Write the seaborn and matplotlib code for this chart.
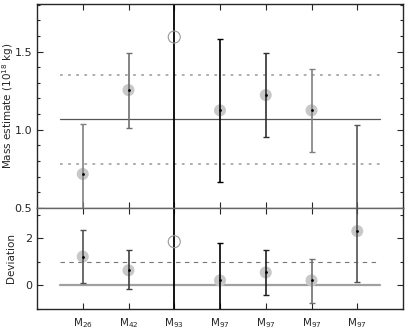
import numpy as np
import pandas as pd
import seaborn as sns
import matplotlib.pyplot as plt
from matplotlib.ticker import MultipleLocator

labels = ['M$_{26}$', 'M$_{42}$', 'M$_{93}$', 'M$_{97}$', 'M$_{97}$', 'M$_{97}$', 'M$_{97}$']
xpos = [1, 2, 3, 4, 5, 6, 7]

# mass estimates (1e18 kg) with error bar ends
mass = [0.716, 1.254, 1.594, 1.124, 1.222, 1.124, 0.42]
mass_hi = [1.036, 1.494, np.nan, 1.579, 1.494, 1.391, 1.030]
mass_lo = [0.30, 1.013, np.nan, 0.667, 0.953, 0.855, 0.00]
mass_mean = 1.069
mass_band = [0.78, 1.35]

# deviation
dev = [1.22, 0.64, 1.85, 0.21, 0.55, 0.21, 2.30]
dev_hi = [2.34, 1.50, np.nan, 1.81, 1.50, 1.12, 4.5]
dev_lo = [0.11, -0.17, np.nan, -1.5, -0.39, -0.73, 0.13]

bar_cols_top = ['#808080', '#707070', None, '#000000', '#303030', '#808080', '#555555']
bar_cols_bot = ['#505050', '#404040', None, '#000000', '#202020', '#707070', '#505050']
open_pt = [False, False, True, False, False, False, False]

sns.set_style('ticks')
plt.rcParams['font.family'] = ['DejaVu Sans']
plt.rcParams['xtick.direction'] = 'in'
plt.rcParams['ytick.direction'] = 'in'

fig = plt.figure(figsize=(4.07, 3.30), dpi=100)
ax1 = fig.add_axes([0.0909, 0.3706, 0.8993, 0.6174])
ax2 = fig.add_axes([0.0909, 0.0636, 0.8993, 0.3070])

df = pd.DataFrame({'x': xpos, 'mass': mass, 'dev': dev, 'open': open_pt})


def draw_panel(ax, ycol, hi, lo, cols, mean, band, band_style, mean_style):
    ax.plot([0.5, 7.5], [mean, mean], **mean_style, zorder=1)
    for b in band:
        ax.plot([0.5, 7.5], [b, b], **band_style, zorder=1)
    ax.axvline(3, color='black', lw=1.3, zorder=2)
    filled = df[~df['open']]
    sns.scatterplot(data=filled, x='x', y=ycol, ax=ax, s=75, color='#c8c8c8',
                    edgecolor='none', zorder=3, legend=False)
    empty = df[df['open']]
    ax.scatter(empty['x'], empty[ycol], s=75, facecolor='none',
               edgecolor='#9a9a9a', lw=0.8, zorder=3)
    for i, x in enumerate(xpos):
        if np.isnan(hi[i]):
            continue
        y = df[ycol][i]
        ax.errorbar(x, y, yerr=[[y - lo[i]], [hi[i] - y]], fmt='none',
                    ecolor=cols[i], elinewidth=1.2, capsize=2.5,
                    capthick=1.0, zorder=4)
        ax.plot(x, y, marker='.', ms=2, color='black', zorder=5)
    ax.set_xlim(0, 8)
    ax.set_xticks(xpos)
    ax.tick_params(axis='both', which='both', top=True, bottom=True,
                   left=True, right=True, labelsize=8, width=0.8)
    ax.tick_params(which='major', length=4)
    ax.tick_params(which='minor', length=2.5)
    for s in ax.spines.values():
        s.set_linewidth(1.0)
    ax.set_xlabel('')


draw_panel(ax1, 'mass', mass_hi, mass_lo, bar_cols_top, mass_mean, mass_band,
           dict(color='#a8a8a8', lw=1.3, ls=(0, (1.5, 3))),
           dict(color='#555555', lw=0.9))
ax1.set_ylim(0.5, 1.806)
ax1.yaxis.set_major_locator(MultipleLocator(0.5))
ax1.yaxis.set_minor_locator(MultipleLocator(0.1))
ax1.set_xticklabels([])
ax1.set_ylabel('Mass estimate (10$^{18}$ kg)', fontsize=7.5)
ax1.spines['bottom'].set_color('#666666')

draw_panel(ax2, 'dev', dev_hi, dev_lo, bar_cols_bot, 0.0, [1.0],
           dict(color='#777777', lw=0.8, ls=(0, (4, 4))),
           dict(color='#a0a0a0', lw=1.6))
ax2.set_ylim(-1, 3.29)
ax2.set_yticks([0, 2])
ax2.yaxis.set_minor_locator(MultipleLocator(1))
ax2.set_xticklabels(labels, fontsize=7.5)
ax2.tick_params(axis='x', pad=5)
ax2.set_ylabel('Deviation', fontsize=7.5)
ax2.spines['top'].set_color('#666666')

ax1.yaxis.set_label_coords(-0.057, 0.5)
ax2.yaxis.set_label_coords(-0.057, 0.5)

fig.savefig('out.png', dpi=100)
